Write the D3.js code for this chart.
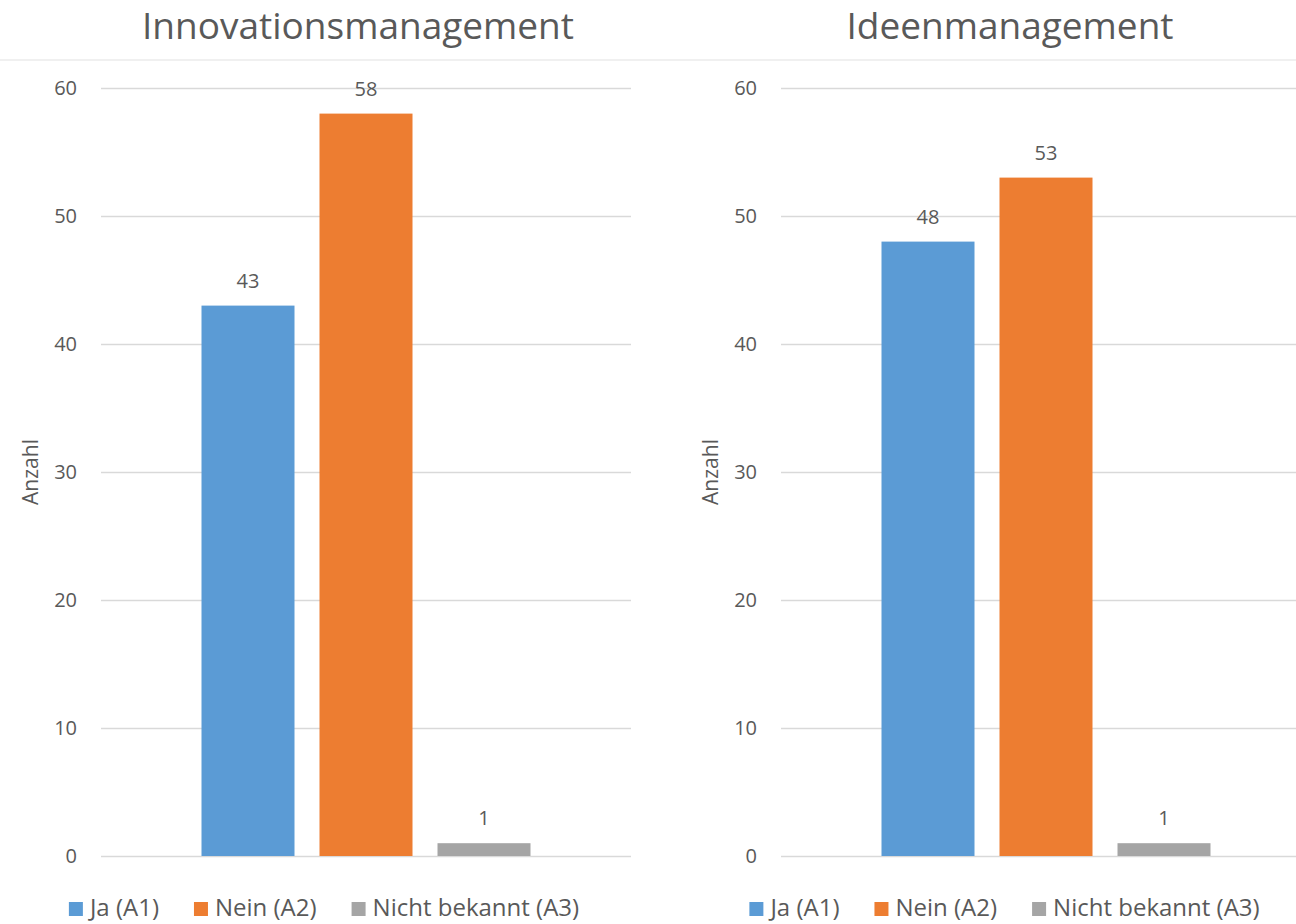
<!DOCTYPE html>
<html>
<head>
<meta charset="utf-8">
<script src="https://cdn.jsdelivr.net/npm/d3@7"></script>
<style>
  body { margin: 0; background: #fff; }
  text { font-family: "Open Sans", sans-serif; fill: #595959; }
</style>
</head>
<body>
<div class="chart"></div>
<script>
// data
var series = ["Ja (A1)", "Nein (A2)", "Nicht bekannt (A3)"];
var colors = ["#5b9bd5", "#ed7d31", "#a5a5a5"];
var titles = ["Innovationsmanagement", "Ideenmanagement"];
var innovValues = [43, 58, 1];
var ideenValues = [48, 53, 1];
var yTicks = [0, 10, 20, 30, 40, 50, 60];

var svgWidth = 1296, svgHeight = 924;

var svg = d3.select(".chart")
  .append("svg")
  .attr("width", svgWidth)
  .attr("height", svgHeight);

// thin line under the titles
svg.append("line")
  .attr("x1", 0).attr("x2", svgWidth)
  .attr("y1", 60).attr("y2", 60)
  .attr("stroke", "#ebebeb")
  .attr("stroke-width", 1.5);

var panels = [
  { title: titles[0], values: innovValues, offset: 0, titleX: 358, legendX: 324 },
  { title: titles[1], values: ideenValues, offset: 680, titleX: 1010, legendX: 1004.5 }
];

var plotLeft = 101, plotWidth = 530;
var yScale = d3.scaleLinear().domain([0, 60]).range([856, 88]);

panels.forEach(function(p) {
  var g = svg.append("g").attr("transform", `translate(${p.offset}, 0)`);

  // title
  svg.append("text")
    .attr("x", p.titleX)
    .attr("y", 39)
    .attr("text-anchor", "middle")
    .attr("font-size", "37px")
    .text(p.title);

  // bars inside the single category
  var xScale = d3.scaleBand()
    .domain(series)
    .range([plotLeft, plotLeft + plotWidth])
    .paddingInner(25 / 118)
    .paddingOuter(0.8517);

  // gridlines + tick labels
  var leftAxis = d3.axisLeft(yScale)
    .tickValues(yTicks)
    .tickSize(-plotWidth)
    .tickPadding(24);

  var axisG = g.append("g")
    .attr("transform", `translate(${plotLeft}, 0)`)
    .call(leftAxis);
  axisG.select(".domain").remove();
  axisG.selectAll(".tick line")
    .attr("stroke", "#d9d9d9")
    .attr("stroke-width", 1.3);
  axisG.selectAll(".tick text")
    .attr("font-size", "20px")
    .attr("font-family", "Open Sans")
    .attr("fill", "#595959");

  var data = series.map(function(s, i) { return { name: s, value: p.values[i], color: colors[i] }; });

  g.selectAll(".bar")
    .data(data)
    .enter()
    .append("rect")
    .attr("class", "bar")
    .attr("x", d => xScale(d.name))
    .attr("width", xScale.bandwidth())
    .attr("y", d => yScale(d.value))
    .attr("height", d => yScale(0) - yScale(d.value))
    .attr("fill", d => d.color);

  g.selectAll(".lbl")
    .data(data)
    .enter()
    .append("text")
    .attr("class", "lbl")
    .attr("x", d => xScale(d.name) + xScale.bandwidth() / 2)
    .attr("y", d => yScale(d.value) - 25)
    .attr("dy", "0.35em")
    .attr("text-anchor", "middle")
    .attr("font-size", "20px")
    .text(d => d.value);

  // y axis title
  g.append("text")
    .attr("transform", `translate(31, ${(yScale(0) + yScale(60)) / 2}) rotate(-90)`)
    .attr("dy", "0.35em")
    .attr("text-anchor", "middle")
    .attr("font-size", "21px")
    .text("Anzahl");

  // legend, centred under the panel
  var leg = svg.append("g");
  var x = 0;
  series.forEach(function(s, i) {
    leg.append("rect")
      .attr("x", x).attr("y", 902)
      .attr("width", 14).attr("height", 14)
      .attr("fill", colors[i]);
    var t = leg.append("text")
      .attr("x", x + 21)
      .attr("y", 916)
      .attr("font-size", "24px")
      .text(s);
    x = x + 21 + t.node().getComputedTextLength();
    if (i < series.length - 1) x += 35;
  });
  leg.attr("transform", `translate(${p.legendX - x / 2}, 0)`);
});
</script>
</body>
</html>
